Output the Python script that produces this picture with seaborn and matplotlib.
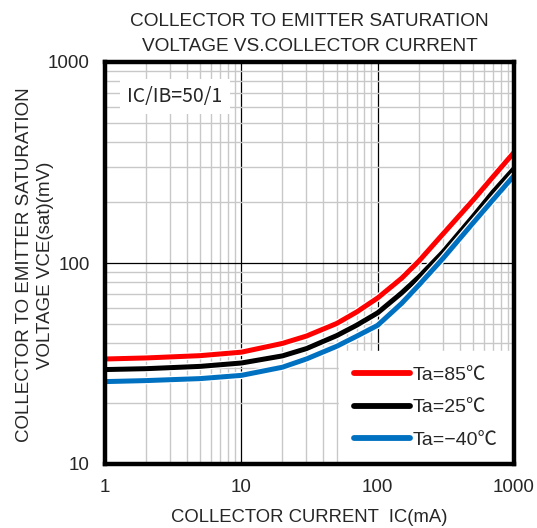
import matplotlib
matplotlib.use("Agg")
import matplotlib.pyplot as plt
import matplotlib.patheffects as pe
from matplotlib.ticker import LogLocator, FixedLocator, NullFormatter
import seaborn as sns
import pandas as pd

ic_ma = [1, 2, 5, 10, 20, 30, 50, 70, 100, 150, 200, 300, 500, 700, 1000]
vce_85 = [33.3, 33.7, 34.6, 36.0, 39.8, 43.3, 50.0, 57.0, 67.0, 84.0, 102, 139, 205, 268, 355]
vce_25 = [29.5, 29.8, 30.6, 31.8, 34.5, 37.5, 43.5, 49.0, 56.5, 71.0, 85.0, 113, 170, 225, 295]
vce_m40 = [25.7, 26.0, 26.6, 27.6, 30.3, 33.3, 38.5, 43.2, 49.0, 63.0, 77.5, 105, 158, 206, 272]
series_labels = ["Ta=85℃", "Ta=25℃", "Ta=\u221240℃"]
colors = ["#ff0000", "#000000", "#0070c0"]

rows = []
for lab, vals in zip(series_labels, [vce_85, vce_25, vce_m40]):
    for x, y in zip(ic_ma, vals):
        rows.append({"IC": x, "VCE": y, "Ta": lab})
df = pd.DataFrame(rows)

sns.set_style("white")
plt.rcParams["font.family"] = ["Liberation Sans", "Noto Sans CJK JP", "DejaVu Sans"]

fig = plt.figure(figsize=(5.37, 5.28), dpi=100)
ax = fig.add_axes([105/537, 64/528, 409/537, 402/528])

sns.lineplot(data=df, x="IC", y="VCE", hue="Ta", hue_order=series_labels,
             palette=colors, linewidth=3.6, ax=ax, zorder=5,
             path_effects=[pe.Stroke(linewidth=5.4, foreground="white"), pe.Normal()])

ax.set_xscale("log")
ax.set_yscale("log")
ax.set_xlim(1, 1000)
ax.set_ylim(10, 1000)

ax.xaxis.set_major_locator(FixedLocator([1, 10, 100, 1000]))
ax.yaxis.set_major_locator(FixedLocator([10, 100, 1000]))
ax.set_xticklabels(["1", "10", "100", "1000"])
ax.set_yticklabels(["10", "100", "1000"])
ax.xaxis.set_minor_locator(LogLocator(base=10, subs=range(2, 10)))
ax.yaxis.set_minor_locator(LogLocator(base=10, subs=range(2, 10)))
ax.xaxis.set_minor_formatter(NullFormatter())
ax.yaxis.set_minor_formatter(NullFormatter())

ax.grid(which="minor", color="#c8c8c8", linewidth=1.0)
ax.grid(which="major", color="#000000", linewidth=0.9)
ax.set_axisbelow(True)
ax.tick_params(which="both", length=0, labelsize=13.5)
ax.tick_params(axis="x", pad=11)
ax.tick_params(axis="y", pad=11)

for s in ax.spines.values():
    s.set_linewidth(3.2)
    s.set_color("black")
    s.set_zorder(10)

ax.set_xlabel("COLLECTOR CURRENT  IC(mA)", fontsize=13.3, labelpad=9)
ax.set_ylabel("COLLECTOR TO EMITTER SATURATION\nVOLTAGE VCE(sat)(mV)", fontsize=13.5,
              linespacing=1.33)
ax.yaxis.set_label_coords(-0.125, 0.495)
ax.set_title("COLLECTOR TO EMITTER SATURATION\nVOLTAGE VS.COLLECTOR CURRENT",
             fontsize=13.7, pad=8, linespacing=1.62)

ax.text(0.171, 0.913, "IC/IB=50/1", transform=ax.transAxes, ha="center", va="center",
        fontsize=14, family=["Noto Sans CJK JP", "DejaVu Sans"],
        bbox=dict(facecolor="white", edgecolor="none", pad=5), zorder=6)

leg = ax.legend(loc="lower right", bbox_to_anchor=(1.012, -0.015), frameon=True,
                fontsize=14, handlelength=2.85, handletextpad=0.15, labelspacing=0.75,
                borderaxespad=0.3, borderpad=0.8, fancybox=False)
leg.get_frame().set_edgecolor("white")
leg.get_frame().set_facecolor("white")
leg.get_frame().set_alpha(1)
leg.set_title(None)
for h in leg.legend_handles:
    h.set_linewidth(4.2)
    h.set_path_effects([])
leg.set_zorder(7)

fig.savefig("out.png", dpi=100)
